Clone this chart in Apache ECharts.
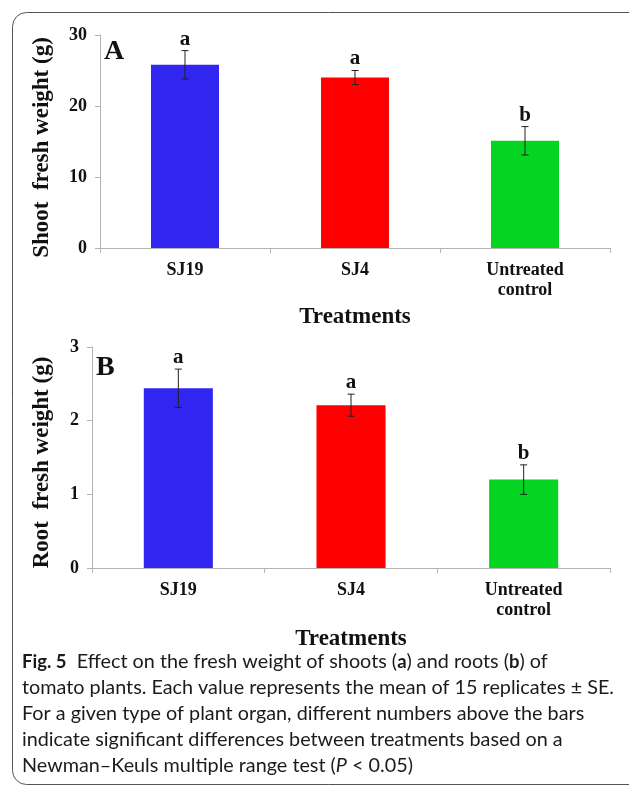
<!DOCTYPE html>
<html>
<head>
<meta charset="utf-8">
<script src="https://cdn.jsdelivr.net/npm/echarts@6/dist/echarts.min.js"></script>
<style>
  html, body { margin: 0; padding: 0; background: #fff; }
  #chart { width: 629px; height: 791px; }
</style>
</head>
<body>
<div id="chart"></div>
<script>
// treatments
const treatments = ['SJ19', 'SJ4', 'Untreated\ncontrol']
const barColors = ['#3026f0', '#ff0000', '#05d421']

// panel A: shoot fresh weight (g)
const shootMean = [25.8, 24.0, 15.1]
const shootSE = [2.0, 1.0, 2.0]
const shootLetters = ['a', 'a', 'b']

// panel B: root fresh weight (g)
const rootMean = [2.44, 2.21, 1.20]
const rootSE = [0.26, 0.15, 0.20]
const rootLetters = ['a', 'a', 'b']

const serif = '"Liberation Serif", "Times New Roman", serif'
const axisGray = '#b4b4b4'

const myChart = echarts.init(document.getElementById('chart'))

// 误差线 + 显著性字母
function errorSeries(idx, mean, se, letters) {
  return {
    type: 'custom',
    xAxisIndex: idx,
    yAxisIndex: idx,
    z: 5,
    data: mean.map((m, i) => [i, m - se[i], m + se[i]]),
    renderItem(params, api) {
      const lo = api.coord([api.value(0), api.value(1)])
      const hi = api.coord([api.value(0), api.value(2)])
      const x = lo[0]
      const cap = 3.5
      const style = { stroke: '#222', lineWidth: 1 }
      return {
        type: 'group',
        children: [
          { type: 'line', shape: { x1: x, y1: lo[1], x2: x, y2: hi[1] }, style },
          { type: 'line', shape: { x1: x - cap, y1: lo[1], x2: x + cap, y2: lo[1] }, style },
          { type: 'line', shape: { x1: x - cap, y1: hi[1], x2: x + cap, y2: hi[1] }, style },
          {
            type: 'text',
            x: x,
            y: hi[1] - 1,
            style: {
              text: letters[params.dataIndex],
              font: 'bold 21px ' + serif,
              fill: '#111',
              align: 'center',
              verticalAlign: 'bottom'
            }
          }
        ]
      }
    }
  }
}

function xAxisOf(gridIdx, gap) {
  return {
    type: 'category',
    gridIndex: gridIdx,
    data: treatments,
    boundaryGap: true,
    name: 'Treatments',
    nameLocation: 'middle',
    nameGap: gap,
    nameTextStyle: { fontFamily: serif, fontWeight: 'bold', fontSize: 23, color: '#111' },
    axisLine: { lineStyle: { color: axisGray, width: 1 } },
    axisTick: { show: true, inside: false, length: 5, lineStyle: { color: axisGray } },
    axisLabel: {
      fontFamily: serif, fontWeight: 'bold', fontSize: 18, color: '#111',
      lineHeight: 20, margin: 12
    }
  }
}

function yAxisOf(gridIdx, max, interval, name, gap, shift) {
  return {
    type: 'value',
    gridIndex: gridIdx,
    min: 0,
    max: max,
    interval: interval,
    name: name,
    nameLocation: 'middle',
    nameRotate: 90,
    nameGap: gap,
    nameTextStyle: {
      fontFamily: serif, fontWeight: 'bold', fontSize: 23, color: '#111',
      padding: [0, shift, 0, 0]
    },
    splitLine: { show: false },
    axisLine: { show: true, lineStyle: { color: axisGray, width: 1 } },
    axisTick: { show: true, inside: false, length: 5, lineStyle: { color: axisGray } },
    axisLabel: { fontFamily: serif, fontWeight: 'bold', fontSize: 18, color: '#111', margin: 13 }
  }
}

function barSeries(idx, mean) {
  return {
    type: 'bar',
    xAxisIndex: idx,
    yAxisIndex: idx,
    barWidth: '40%',
    data: mean.map((v, i) => ({ value: v, itemStyle: { color: barColors[i] } }))
  }
}

const captionLines = [
  [{ t: 'Fig. 5', s: 'b' }, { t: '  Effect on the fresh weight of shoots (' }, { t: 'a', s: 'b' }, { t: ') and roots (' }, { t: 'b', s: 'b' }, { t: ') of' }],
  [{ t: 'tomato plants. Each value represents the mean of 15 replicates ± SE.' }],
  [{ t: 'For a given type of plant organ, different numbers above the bars' }],
  [{ t: 'indicate significant differences between treatments based on a' }],
  [{ t: 'Newman–Keuls multiple range test (' }, { t: 'P', s: 'i' }, { t: ' < 0.05)' }]
]
const captionTop = 662
const captionStep = 26

const option = {
  animation: false,
  backgroundColor: '#fff',
  grid: [
    { left: 100, top: 35, width: 510, height: 213 },
    { left: 92, top: 347, width: 518, height: 221 }
  ],
  xAxis: [xAxisOf(0, 58), xAxisOf(1, 60)],
  yAxis: [
    yAxisOf(0, 30, 10, 'Shoot  fresh weight (g)', 46, 12),
    yAxisOf(1, 3, 1, 'Root  fresh weight (g)', 38, 10)
  ],
  series: [
    barSeries(0, shootMean),
    errorSeries(0, shootMean, shootSE, shootLetters),
    barSeries(1, rootMean),
    errorSeries(1, rootMean, rootSE, rootLetters)
  ],
  graphic: [
    {
      type: 'rect',
      shape: { x: 12.5, y: 12.5, width: 660, height: 772, r: 14 },
      style: { fill: 'none', stroke: '#555', lineWidth: 1 },
      silent: true
    },
    {
      type: 'text', left: 104, top: 38,
      style: { text: 'A', font: 'bold 28px ' + serif, fill: '#111' }
    },
    {
      type: 'text', left: 96, top: 354,
      style: { text: 'B', font: 'bold 28px ' + serif, fill: '#111' }
    }
  ].concat(captionLines.map((parts, i) => ({
    type: 'text',
    left: 22,
    top: captionTop + i * captionStep - 10,
    style: {
      text: parts.map(p => '{' + (p.s || 'n') + '|' + p.t + '}').join(''),
      rich: {
        n: { font: '19.8px Lato', fill: '#1e1a1b' },
        b: { font: 'bold 18.5px Lato', fill: '#1e1a1b' },
        i: { font: 'italic 19.8px Lato', fill: '#1e1a1b' }
      }
    }
  })))
}

myChart.setOption(option)
</script>
</body>
</html>
